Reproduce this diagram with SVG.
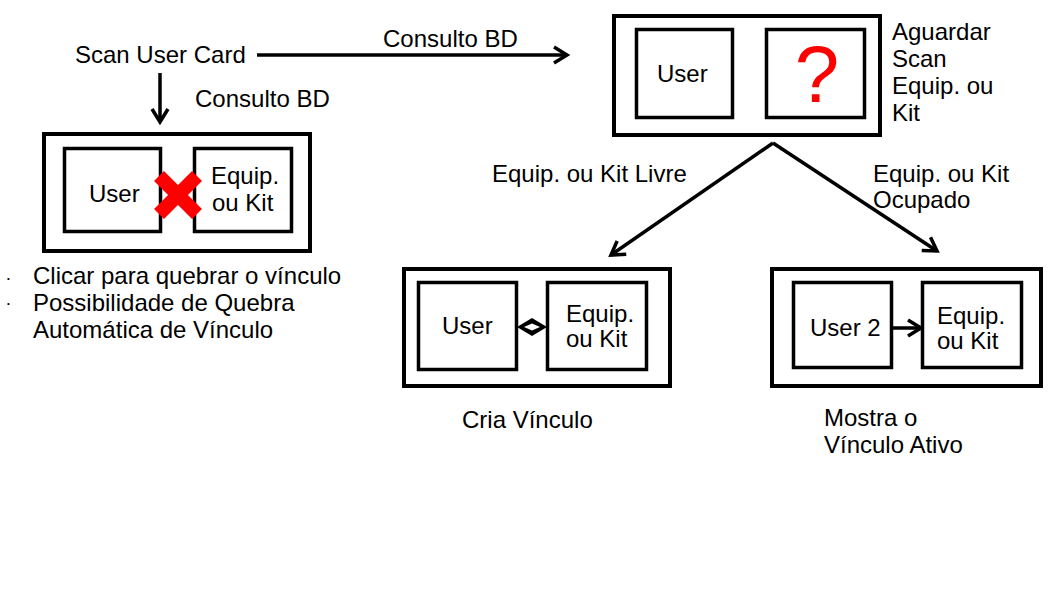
<svg xmlns="http://www.w3.org/2000/svg" width="1058" height="595" viewBox="0 0 1058 595">
<defs>
<style>
text{font-family:"Liberation Sans",Arial,sans-serif;font-size:24px;fill:#000}
.outer{fill:none;stroke:#000;stroke-width:4}
.inner{fill:none;stroke:#000;stroke-width:3.5}
.conn{stroke:#000;stroke-width:3.5;fill:none}
</style>
<marker id="arr" markerUnits="userSpaceOnUse" markerWidth="20" markerHeight="20" viewBox="0 0 20 20" refX="15" refY="10" orient="auto">
<path d="M2,2 L15,10 L2,18" fill="none" stroke="#000" stroke-width="3.5"/>
</marker>
</defs>
<rect width="1058" height="595" fill="#fff"/>

<g id="scan-user-card"><text x="75" y="63">Scan User Card</text></g>

<g id="box-broken">
<rect class="outer" x="44" y="134" width="266" height="117"/>
<rect class="inner" x="64.5" y="148.5" width="96" height="83"/>
<rect class="inner" x="194.5" y="148.5" width="97" height="83"/>
<text x="89" y="202">User</text>
<text x="211" y="184">Equip.</text>
<text x="212" y="211">ou Kit</text>
<g id="red-x" stroke="#ff0000" stroke-width="14">
<line x1="159" y1="176" x2="197" y2="214"/>
<line x1="197" y1="176" x2="159" y2="214"/>
</g>
</g>

<g id="notes-broken">
<text x="7" y="281" style="font-size:8px">•</text>
<text x="7" y="306" style="font-size:8px">•</text>
<text x="33" y="284">Clicar para quebrar o vínculo</text>
<text x="33" y="311">Possibilidade de Quebra</text>
<text x="33" y="338">Automática de Vínculo</text>
</g>

<g id="box-wait">
<rect class="outer" x="614" y="16" width="266" height="119"/>
<rect class="inner" x="636.5" y="29.5" width="96" height="88"/>
<rect class="inner" x="766.5" y="29.5" width="98" height="88"/>
<text x="657" y="82">User</text>
<text x="817" y="102" text-anchor="middle" style="font-size:80px;fill:#ff0000">?</text>
</g>
<g id="label-wait">
<text x="892" y="40">Aguardar</text>
<text x="892" y="67">Scan</text>
<text x="892" y="94">Equip. ou</text>
<text x="892" y="121">Kit</text>
</g>

<g id="box-create">
<rect class="outer" x="404" y="269" width="266" height="117"/>
<rect class="inner" x="418.5" y="282.5" width="98" height="87"/>
<rect class="inner" x="547.5" y="282.5" width="99" height="87"/>
<text x="442" y="334">User</text>
<text x="566" y="322">Equip.</text>
<text x="566" y="347">ou Kit</text>
</g>
<g id="label-create"><text x="462" y="428">Cria Vínculo</text></g>

<g id="box-active">
<rect class="outer" x="772" y="269" width="269" height="117"/>
<rect class="inner" x="793.5" y="282.5" width="98" height="85"/>
<rect class="inner" x="922.5" y="282.5" width="99" height="85"/>
<text x="810" y="336">User 2</text>
<text x="937" y="324">Equip.</text>
<text x="937" y="349">ou Kit</text>
</g>
<g id="label-active">
<text x="824" y="426">Mostra o</text>
<text x="824" y="453">Vínculo Ativo</text>
</g>

<g id="connectors">
<line class="conn" x1="257" y1="55" x2="567" y2="55" marker-end="url(#arr)"/>
<line class="conn" x1="160" y1="73" x2="160" y2="122" marker-end="url(#arr)"/>
<line class="conn" x1="773" y1="143" x2="611" y2="255" marker-end="url(#arr)"/>
<line class="conn" x1="773" y1="143" x2="937" y2="251" marker-end="url(#arr)"/>
<line class="conn" x1="892" y1="328" x2="921" y2="328" marker-end="url(#arr)"/>
<g id="diamond">
<polygon points="517,327 532,318 547,327 532,336" fill="#000"/>
<polygon points="524,327 532,323.5 540,327 532,330.5" fill="#fff"/>
</g>
<text x="383" y="47">Consulto BD</text>
<text x="195" y="107">Consulto BD</text>
<text x="492" y="182">Equip. ou Kit Livre</text>
<text x="873" y="182">Equip. ou Kit</text>
<text x="873" y="208">Ocupado</text>
</g>
</svg>
